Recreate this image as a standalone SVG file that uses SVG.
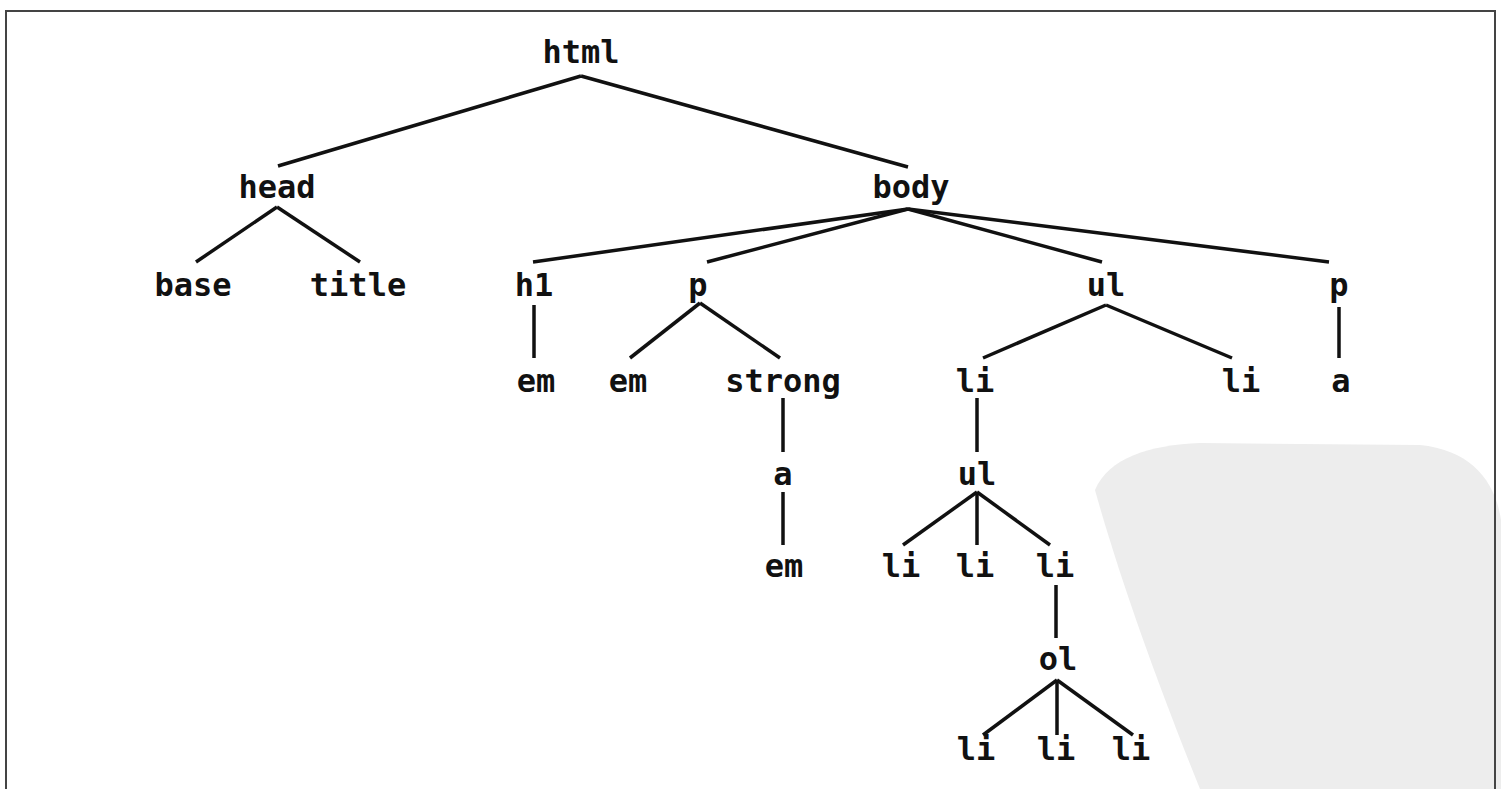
<svg xmlns="http://www.w3.org/2000/svg" width="1501" height="789" viewBox="0 0 1501 789">
<style>
.n{font-family:"DejaVu Sans Mono","Liberation Mono",monospace;font-weight:bold;font-size:32px;fill:#111;text-anchor:middle}
.e line{stroke:#111;stroke-width:3.5;stroke-linecap:butt}
</style>
<rect x="0" y="0" width="1501" height="789" fill="#fff"/>
<path d="M1095,490 C1108,458 1150,445 1200,443 L1420,445 C1470,450 1495,480 1501,520 L1501,789 L1200,789 C1160,690 1120,580 1095,490 Z" fill="#ededed"/>
<path d="M6,789 L6,11 L1495,11 L1495,789" fill="none" stroke="#444" stroke-width="2"/>
<g class="e" id="connectors">
<line x1="581" y1="76" x2="278" y2="166"/>
<line x1="581" y1="76" x2="908" y2="167"/>
<line x1="277" y1="207" x2="196" y2="262"/>
<line x1="277" y1="207" x2="360" y2="262"/>
<line x1="908" y1="209" x2="533" y2="262"/>
<line x1="908" y1="209" x2="707" y2="262"/>
<line x1="908" y1="209" x2="1102" y2="262"/>
<line x1="908" y1="209" x2="1329" y2="262"/>
<line x1="534" y1="305" x2="534" y2="358"/>
<line x1="700" y1="303" x2="630" y2="358"/>
<line x1="700" y1="303" x2="780" y2="358"/>
<line x1="1106" y1="305" x2="983" y2="358"/>
<line x1="1106" y1="305" x2="1232" y2="358"/>
<line x1="1339" y1="307" x2="1339" y2="358"/>
<line x1="783" y1="398" x2="783" y2="452"/>
<line x1="783" y1="492" x2="783" y2="545"/>
<line x1="977" y1="398" x2="977" y2="452"/>
<line x1="977" y1="492" x2="903" y2="545"/>
<line x1="977" y1="492" x2="977" y2="545"/>
<line x1="977" y1="492" x2="1050" y2="545"/>
<line x1="1056" y1="585" x2="1056" y2="638"/>
<line x1="1057" y1="680" x2="983" y2="735"/>
<line x1="1057" y1="680" x2="1057" y2="735"/>
<line x1="1057" y1="680" x2="1133" y2="735"/>
</g>
<g id="n-html"><text class="n" x="581" y="63">html</text></g>
<g id="n-head"><text class="n" x="277" y="198">head</text></g>
<g id="n-body"><text class="n" x="911" y="198">body</text></g>
<g id="n-base"><text class="n" x="193" y="296">base</text></g>
<g id="n-title"><text class="n" x="358" y="296">title</text></g>
<g id="n-h1"><text class="n" x="534" y="296">h1</text></g>
<g id="n-p1"><text class="n" x="698" y="296">p</text></g>
<g id="n-ul1"><text class="n" x="1106" y="296">ul</text></g>
<g id="n-p2"><text class="n" x="1339" y="296">p</text></g>
<g id="n-em1"><text class="n" x="536" y="392">em</text></g>
<g id="n-em2"><text class="n" x="628" y="392">em</text></g>
<g id="n-strong"><text class="n" x="783" y="392">strong</text></g>
<g id="n-li1"><text class="n" x="975" y="392">li</text></g>
<g id="n-li2"><text class="n" x="1241" y="392">li</text></g>
<g id="n-a2"><text class="n" x="1341" y="392">a</text></g>
<g id="n-a1"><text class="n" x="783" y="485">a</text></g>
<g id="n-ul2"><text class="n" x="977" y="485">ul</text></g>
<g id="n-em3"><text class="n" x="784" y="577">em</text></g>
<g id="n-li3"><text class="n" x="901" y="577">li</text></g>
<g id="n-li4"><text class="n" x="975" y="577">li</text></g>
<g id="n-li5"><text class="n" x="1055" y="577">li</text></g>
<g id="n-ol"><text class="n" x="1058" y="670">ol</text></g>
<g id="n-li6"><text class="n" x="976" y="760">li</text></g>
<g id="n-li7"><text class="n" x="1056" y="760">li</text></g>
<g id="n-li8"><text class="n" x="1131" y="760">li</text></g>
</svg>
